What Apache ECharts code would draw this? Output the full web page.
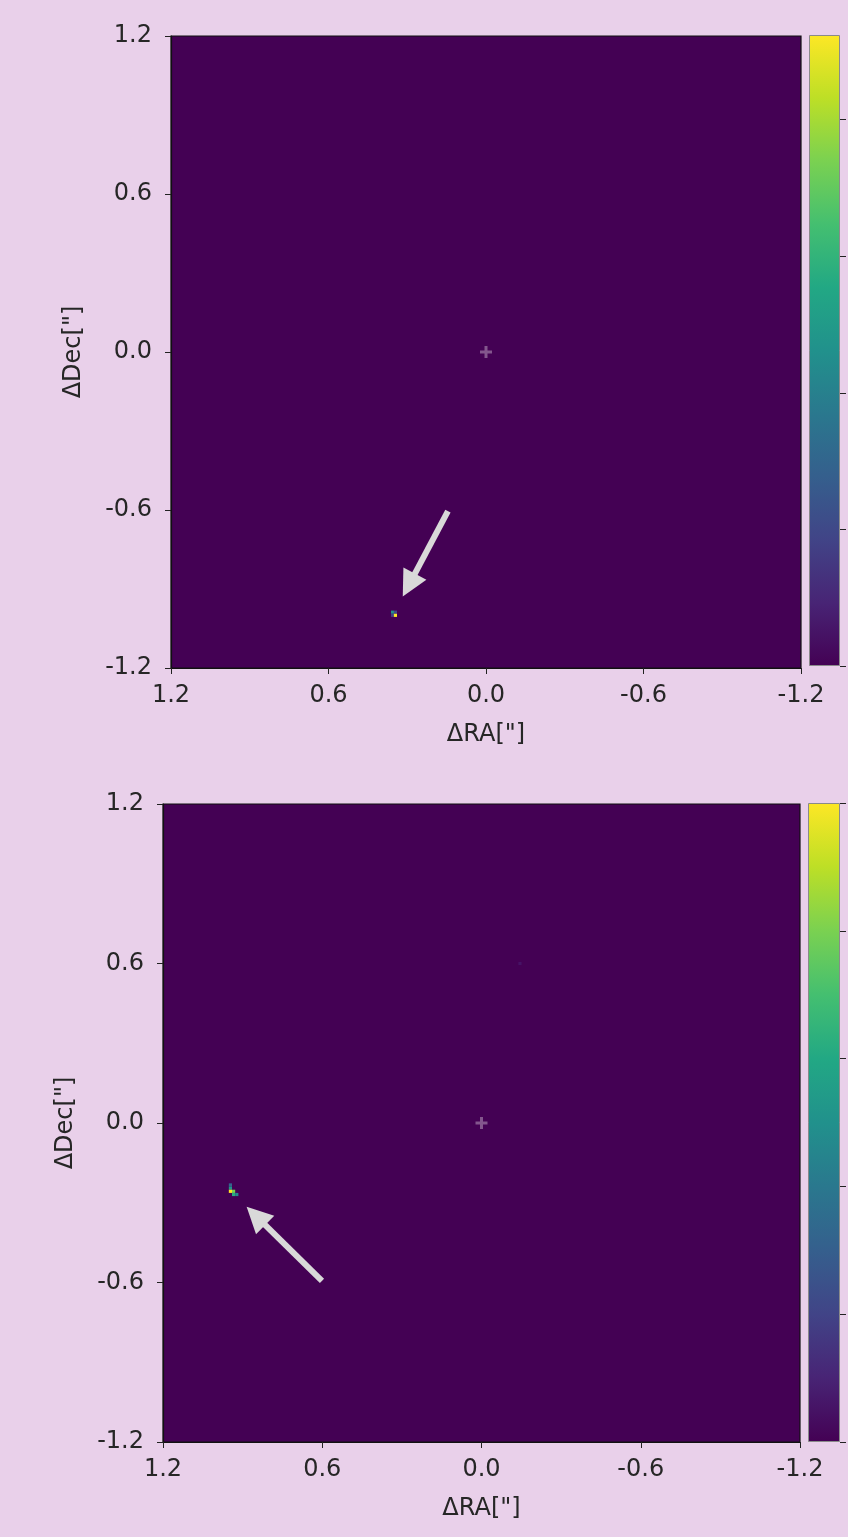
<!DOCTYPE html>
<html>
<head>
<meta charset="utf-8">
<script src="https://cdn.jsdelivr.net/npm/echarts@6/dist/echarts.min.js"></script>
<style>
html,body{margin:0;padding:0;background:#e9d0ea;}
#c{width:848px;height:1537px;}
</style>
</head>
<body>
<div id="c"></div>
<script>
// ---- data ----
const axisTicks = [-1.2, -0.6, 0.0, 0.6, 1.2];
const xName = 'ΔRA["]';
const yName = 'ΔDec["]';
const viridis = ['#440154','#482475','#414487','#355f8d','#2a788e','#21918c','#22a884','#44bf70','#7ad151','#bddf26','#fde725'];
const cellSize = 0.012; // arcsec per image pixel

// panel 1: [ΔRA, ΔDec, flux]
const cells1 = [
  [0.356, -0.988, 2.3],
  [0.345, -0.988, 1.0],
  [0.356, -1.000, 0.9],
  [0.345, -1.000, 4.62]
];
const cbTicks1 = [0, 1, 2, 3, 4];
const cbMax1 = 4.62;
const arrow1 = [[0.145, -0.604], [0.294, -0.885]];

// panel 2
const cells2 = [
  [0.946, -0.233, 1.6],
  [0.946, -0.245, 2.6],
  [0.946, -0.257, 5.0],
  [0.934, -0.257, 4.0],
  [0.934, -0.269, 3.1],
  [0.922, -0.269, 2.4],
  [-0.145, 0.600, 0.25]
];
const cbTicks2 = [0, 1, 2, 3, 4, 5];
const cbMax2 = 5;
const arrow2 = [[0.601, -0.594], [0.850, -0.349]];

const centre = [[0, 0]];

// ---- chart ----
const font = 'DejaVu Sans';
const txt = '#262626';
const fs = 24;
const chart = echarts.init(document.getElementById('c'), null, {renderer: 'canvas'});

const panels = [
  {grid: {left: 171, top: 36, width: 630, height: 632}, cb: {left: 809, top: 35, width: 31, height: 631}, cells: cells1, cbTicks: cbTicks1, cbMax: cbMax1, arrow: arrow1},
  {grid: {left: 163, top: 804, width: 637, height: 638}, cb: {left: 808, top: 803, width: 32, height: 639}, cells: cells2, cbTicks: cbTicks2, cbMax: cbMax2, arrow: arrow2}
];

const grids = [], xAxes = [], yAxes = [], series = [], visualMaps = [];
const stops = viridis.map((c, i) => ({offset: i / (viridis.length - 1), color: c}));

panels.forEach((p, k) => {
  grids.push(Object.assign({show: true, backgroundColor: '#440154', borderColor: '#111', borderWidth: 1.2}, p.grid));
  grids.push(Object.assign({show: false}, p.cb));
  const gi = grids.length - 2;
  xAxes.push({
    type: 'value', gridIndex: gi, min: -1.2, max: 1.2, interval: 0.6, inverse: true,
    axisLine: {show: true, onZero: false, lineStyle: {color: '#111', width: 1.2}},
    axisTick: {show: true, length: 6, lineStyle: {color: '#222'}},
    axisLabel: {show: true, fontFamily: font, fontSize: fs, color: txt, margin: 16,
      formatter: v => v.toFixed(1)},
    splitLine: {show: false},
    name: xName, nameLocation: 'middle', nameGap: 55,
    nameTextStyle: {fontFamily: font, fontSize: fs, color: txt}
  });
  yAxes.push({
    type: 'value', gridIndex: gi, min: -1.2, max: 1.2, interval: 0.6,
    axisLine: {show: true, onZero: false, lineStyle: {color: '#111', width: 1.2}},
    axisTick: {show: true, length: 6, lineStyle: {color: '#222'}},
    axisLabel: {show: true, fontFamily: font, fontSize: fs, color: txt, margin: 19,
      formatter: v => v.toFixed(1)},
    splitLine: {show: false},
    name: yName, nameLocation: 'middle', nameGap: 85, nameRotate: 90,
    nameTextStyle: {fontFamily: font, fontSize: fs, color: txt}
  });
  // colorbar axes
  xAxes.push({type: 'category', gridIndex: gi + 1, data: ['cb'], show: false});
  yAxes.push({
    type: 'value', gridIndex: gi + 1, min: 0, max: p.cbMax, position: 'right',
    axisLine: {show: false},
    axisTick: {show: true, length: 6, customValues: p.cbTicks, lineStyle: {color: '#222'}},
    axisLabel: {show: false},
    splitLine: {show: false}
  });
  const xi = xAxes.length - 2, yi = yAxes.length - 2;
  const heatIndex = series.length;
  series.push({
    type: 'custom', xAxisIndex: xi, yAxisIndex: yi, data: p.cells, clip: true,
    encode: {x: 0, y: 1},
    renderItem: (params, api) => {
      const c = api.coord([api.value(0), api.value(1)]);
      const s = api.size([cellSize, cellSize]);
      return {type: 'rect', shape: {x: c[0] - s[0] / 2, y: c[1] - s[1] / 2, width: s[0], height: s[1]},
        style: {fill: api.visual('color')}};
    },
    silent: true
  });
  visualMaps.push({type: 'continuous', show: false, seriesIndex: heatIndex, dimension: 2, min: 0, max: p.cbMax,
    inRange: {color: viridis}});
  series.push({
    type: 'scatter', xAxisIndex: xi, yAxisIndex: yi, data: centre, silent: true,
    symbol: 'path://M4.5,0H7.5V4.5H12V7.5H7.5V12H4.5V7.5H0V4.5H4.5Z', symbolSize: 12,
    itemStyle: {color: 'rgba(255,255,255,0.42)'},
    markLine: {
      silent: true, symbol: ['none', 'triangle'], symbolSize: [26, 26],
      lineStyle: {color: '#d9d9d9', width: 6, type: 'solid', opacity: 1},
      label: {show: false},
      data: [[{coord: p.arrow[0]}, {coord: p.arrow[1]}]]
    }
  });
  series.push({
    type: 'bar', xAxisIndex: xi + 1, yAxisIndex: yi + 1, data: [p.cbMax], barWidth: '100%', silent: true,
    itemStyle: {color: new echarts.graphic.LinearGradient(0, 1, 0, 0, stops), borderColor: '#8a8a8a', borderWidth: 1}
  });
});

chart.setOption({
  animation: false,
  backgroundColor: '#e9d0ea',
  grid: grids, xAxis: xAxes, yAxis: yAxes, visualMap: visualMaps, series: series
});
</script>
</body>
</html>
